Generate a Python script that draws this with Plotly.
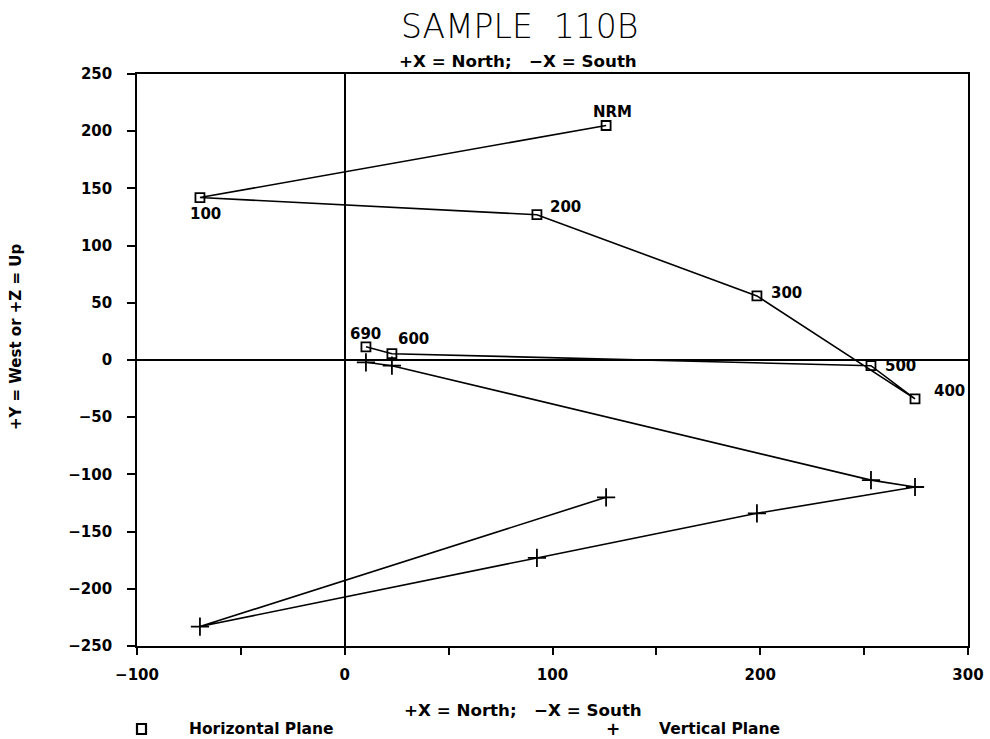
import plotly.graph_objects as go

steps = ["NRM", "100", "200", "300", "400", "500", "600", "690"]
north = [125.8, -69.7, 92.5, 198.4, 274.5, 253.3, 22.7, 10.2]
west = [205, 142, 127, 56, -34, -5, 5.5, 11.5]
up = [-120, -233, -173, -134, -111, -105, -5, -2]

# label offsets (pixels) for the horizontal-plane step labels
label_dx = [6, 6, 29, 30, 34, 30, 22, 0]
label_dy = [13, -16, 8, 3, 8, 0, 15, 13]

xticks = [-100, -50, 0, 50, 100, 150, 200, 250, 300]
xticktext = ["−100", "", "0", "", "100", "", "200", "", "300"]
yticks = [-250, -200, -150, -100, -50, 0, 50, 100, 150, 200, 250]

FONT = "DejaVu Sans"
NB = "\u00a0"
subtitle = "+X = North;" + NB + NB + " −X = South"

fig = go.Figure()
fig.add_trace(go.Scatter(
    x=north, y=west, mode="lines+markers", name="Horizontal Plane",
    line=dict(color="black", width=1.6),
    marker=dict(symbol="square-open", size=9, color="black", line=dict(width=1.8)),
    showlegend=False,
))
fig.add_trace(go.Scatter(
    x=north, y=up, mode="lines+markers", name="Vertical Plane",
    line=dict(color="black", width=1.6),
    marker=dict(symbol="cross-thin-open", size=13, color="black", line=dict(width=1.8, color="black")),
    showlegend=False,
))

for s, xv, yv, dx, dy in zip(steps, north, west, label_dx, label_dy):
    fig.add_annotation(x=xv, y=yv, text=s, showarrow=False, xshift=dx, yshift=dy,
                       xanchor="center", yanchor="middle",
                       font=dict(family=FONT, size=15, color="black", weight="bold"))

def note(text, x, xshift, y, yshift, size, weight="bold", xanchor="center", angle=0):
    fig.add_annotation(xref="paper", yref="paper", x=x, y=y, xshift=xshift, yshift=yshift,
                       text=text, showarrow=False, xanchor=xanchor, yanchor="middle",
                       textangle=angle,
                       font=dict(family=FONT, size=size, color="black", weight=weight))

note("SAMPLE" + NB + " 110B", 0.4597, 0, 1.0, 48, 33, weight=200)
note(subtitle, 0.4579, 0, 1.0, 13, 16.7)
note(subtitle, 0.4651, 0, 0.0, -64, 16.7)
note("Horizontal Plane", 0.0, 50, 0.0, -83, 15.5, xanchor="left")
note("+", 0.0, 476, 0.0, -83, 17)
note("Vertical Plane", 0.0, 520, 0.0, -83, 15.5, xanchor="left")
note("+Y = West or +Z = Up", 0.0, -121, 0.540, 0, 15, angle=-90)

# legend swatch for the horizontal plane (hollow square)
fig.add_shape(type="rect", xref="paper", yref="paper", xsizemode="pixel", ysizemode="pixel",
              xanchor=0, yanchor=0, x0=0, x1=9, y0=-88, y1=-78,
              line=dict(color="black", width=2.2), fillcolor="rgba(0,0,0,0)")

fig.update_layout(
    width=990, height=739,
    margin=dict(l=137, r=22, t=74, b=93, autoexpand=False),
    plot_bgcolor="white", paper_bgcolor="white",
    xaxis=dict(range=[-100, 300], tickvals=xticks, ticktext=xticktext, ticks="outside",
               ticklen=7, tickwidth=1.6, tickcolor="black", showgrid=False,
               showline=True, linecolor="black", linewidth=1.6, mirror=True,
               zeroline=True, zerolinecolor="black", zerolinewidth=1.6,
               ticklabelstandoff=7, automargin=False,
               tickfont=dict(family=FONT, size=15, color="black", weight="bold")),
    yaxis=dict(range=[-250, 250], tickvals=yticks, ticks="outside",
               ticklen=8, tickwidth=1.6, tickcolor="black", showgrid=False,
               showline=True, linecolor="black", linewidth=1.6, mirror=True,
               zeroline=True, zerolinecolor="black", zerolinewidth=1.6,
               ticklabelstandoff=12, automargin=False,
               tickfont=dict(family=FONT, size=15, color="black", weight="bold")),
)

fig.write_html("out.html")
